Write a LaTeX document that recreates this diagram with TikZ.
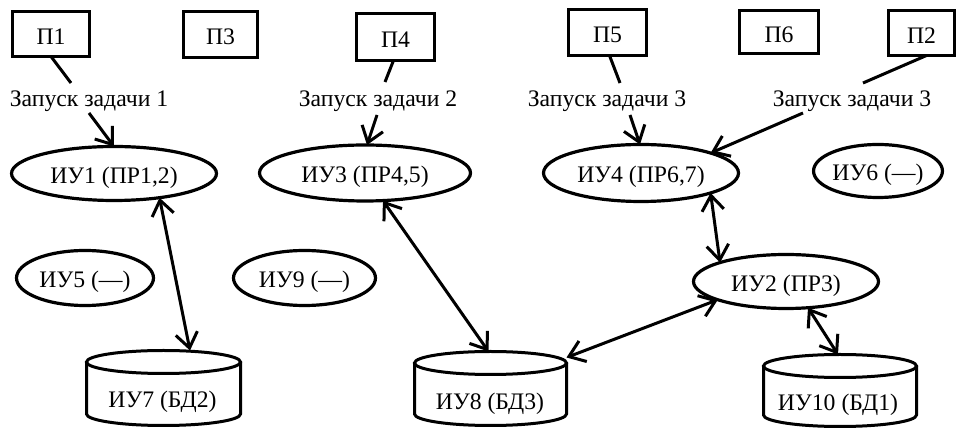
\documentclass[tikz,border=0pt]{standalone}
\usepackage{fontspec}
\setmainfont{Liberation Serif}
\newfontfamily\diagramfont{Liberation Serif}
\usetikzlibrary{arrows.meta,shapes.geometric,calc}

% Outline of a storage drum around an invisible rectangle node:
% #1 node name, #2 half width in pt
\newcommand\cylinderoutline[2]{%
  \draw[line width=3pt] ([yshift=-11.5pt]#1.north west) -- ([yshift=11.5pt]#1.south west)
    arc[start angle=180,end angle=360,x radius=#2pt,y radius=11.5pt]
    -- ([yshift=-11.5pt]#1.north east);
  \draw[line width=3pt] ([yshift=-11.5pt]#1.north) ellipse[x radius=#2pt,y radius=11.5pt];
}

\begin{document}
\begin{tikzpicture}[x=1pt,y=1pt,
  every node/.style={font=\diagramfont\fontsize{23.7}{28}\selectfont, inner sep=0pt, outer sep=0pt},
  proc/.style={draw, rectangle, line width=3pt, text height=20.7pt, text depth=0pt},
  unit/.style={draw, ellipse, line width=3.2pt, text height=22pt, text depth=2.3pt},
  store/.style={rectangle, draw=none},
  lbl/.style={anchor=base},
  link/.style={line width=3pt},
  arrowto/.style={-{Straight Barb[length=15pt,width=22pt]}},
  arrowboth/.style={{Straight Barb[length=15pt,width=22pt]}-{Straight Barb[length=15pt,width=22pt]}}
]
\useasboundingbox (0,0) rectangle (959,428);

% programs
\node[proc, minimum width=77pt, minimum height=45pt] (p1) at (51,394) {П1};
\node[proc, minimum width=74pt, minimum height=46pt] (p3) at (220.5,393.5) {П3};
\node[proc, minimum width=78pt, minimum height=47pt] (p4) at (395.5,391) {П4};
\node[proc, minimum width=78pt, minimum height=46pt] (p5) at (607.5,395.5) {П5};
\node[proc, minimum width=79pt, minimum height=43pt] (p6) at (779,396) {П6};
\node[proc, minimum width=66pt, minimum height=45pt] (p2) at (921.5,395) {П2};

% launch labels
\node[lbl] (l1) at (89,321) {Запуск задачи 1};
\node[lbl] (l2) at (378,321) {Запуск задачи 2};
\node[lbl] (l3) at (607,321) {Запуск задачи 3};
\node[lbl] (l4) at (852,321) {Запуск задачи 3};

% processing units
\node[unit, minimum width=205pt, minimum height=54pt] (iu1) at (114,254.5) {ИУ1 (ПР1,2)};
\node[unit, minimum width=211pt, minimum height=56pt] (iu3) at (365,255) {ИУ3 (ПР4,5)};
\node[unit, minimum width=195pt, minimum height=57pt] (iu4) at (641,255) {ИУ4 (ПР6,7)};
\node[unit, minimum width=117pt, minimum height=53pt] (iu6) at (878,257) {ИУ6 (—)};
\node[unit, minimum width=137pt, minimum height=55pt] (iu5) at (85,150) {ИУ5 (—)};
\node[unit, minimum width=142pt, minimum height=55pt] (iu9) at (304.5,150) {ИУ9 (—)};
\node[unit, minimum width=185pt, minimum height=54pt] (iu2) at (786,146.5) {ИУ2 (ПР3)};

% databases
\node[store, minimum width=154pt, minimum height=75pt] (iu7) at (163.5,40) {};
\node[store, minimum width=152pt, minimum height=74pt] (iu8) at (490.5,39.5) {};
\node[store, minimum width=153pt, minimum height=72pt] (iu10) at (840,37.5) {};
\cylinderoutline{iu7}{77}
\cylinderoutline{iu8}{76}
\cylinderoutline{iu10}{76.5}
\node[lbl] (t7) at (162.5,20) {ИУ7 (БД2)};
\node[lbl] (t8) at (490,18) {ИУ8 (БД3)};
\node[lbl] (t10) at (838,17) {ИУ10 (БД1)};

% task launches
\draw[link] (p1.south) -- ([shift={(-18,24)}]l1.base);
\draw[link,arrowto] ([shift={(0,-6)}]l1.base) -- (iu1.north);
\draw[link] ([xshift=-2pt]p4.south) -- ([shift={(7,25)}]l2.base);
\draw[link,arrowto] ([shift={(-1,-8)}]l2.base) -- ([xshift=2pt]iu3.north);
\draw[link] ([xshift=2pt]p5.south) -- ([shift={(13,24)}]l3.base);
\draw[link,arrowto] ([shift={(23,-8)}]l3.base) -- ([xshift=-1pt]iu4.north);
\draw[link] ([xshift=5pt]p2.south) -- ([shift={(11,24)}]l4.base);
\draw[link,arrowto] ([shift={(-49,-6)}]l4.base) -- (iu4.16);

% data exchange
\draw[link,arrowboth] (iu1.-28) -- ([xshift=26.5pt]iu7.north);
\draw[link,arrowboth] (iu3.-57) -- ([xshift=-2pt]iu8.north);
\draw[link,arrowboth] (iu4.-16) -- (iu2.164);
\draw[link,arrowboth] (iu2.195) -- ([yshift=-6pt]iu8.north east);
\draw[link,arrowboth] (iu2.-50) -- ([xshift=-2pt]iu10.north);
\end{tikzpicture}
\end{document}
